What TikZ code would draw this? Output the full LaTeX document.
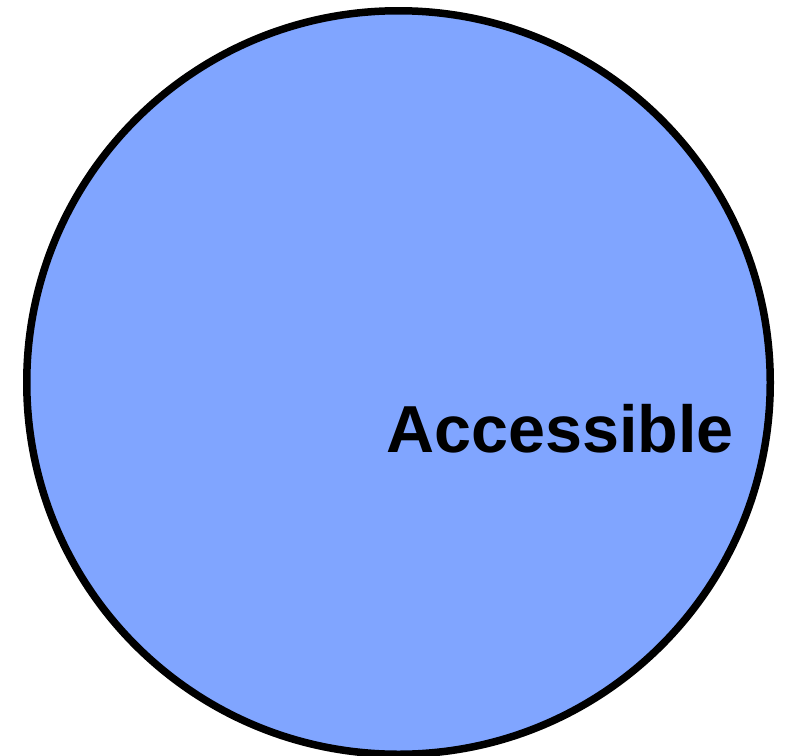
\documentclass[tikz,border=0pt]{standalone}
\usepackage{fontspec}
\setmainfont{Liberation Sans}
\definecolor{setblue}{RGB}{128,165,255}
\begin{document}
\begin{tikzpicture}[x=1pt,y=-1pt,
  setcircle/.style={circle,draw=black,line width=7.5pt,fill=setblue,minimum size=743.5pt,inner sep=0pt},
  setlabel/.style={anchor=base,inner sep=0pt,font=\fontsize{66.5}{66.5}\selectfont\bfseries}]
\useasboundingbox (0,0) rectangle (792,755);
\node[setcircle] (acc) at (398.5,382.5) {};
\node[setlabel] (acclabel) at (560,452) {Accessible};
\end{tikzpicture}
\end{document}
